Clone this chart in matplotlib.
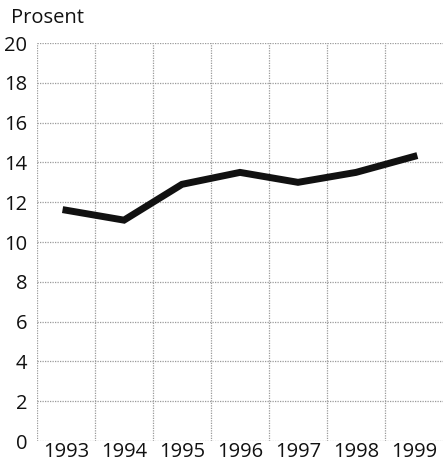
import matplotlib

matplotlib.use("Agg")
import matplotlib.pyplot as plt
from matplotlib.ticker import FixedLocator

years = ["1993", "1994", "1995", "1996", "1997", "1998", "1999"]
prosent = [11.6, 11.1, 12.9, 13.5, 13.0, 13.5, 14.3]
y_ticks = [0, 2, 4, 6, 8, 10, 12, 14, 16, 18, 20]

plt.rcParams["font.family"] = ["Open Sans", "DejaVu Sans"]

fig = plt.figure(figsize=(4.43, 4.63), dpi=100)
ax = fig.add_axes([0.0835, 0.0475, 0.9165, 0.8595])

x = list(range(len(years)))
ax.plot(x, prosent, color="#111111", linewidth=5.0, solid_joinstyle="miter", zorder=3)

ax.set_xlim(-0.5, len(years) - 0.5)
ax.set_ylim(0, 20)
ax.set_xticks(x)
ax.set_xticklabels(years)
ax.set_yticks(y_ticks)
ax.xaxis.set_minor_locator(FixedLocator([i - 0.5 for i in x]))

grid_style = dict(color="#9a9a9a", linestyle=(0, (1, 1)), linewidth=0.9)
ax.grid(True, axis="y", which="major", **grid_style)
ax.grid(True, axis="x", which="minor", **grid_style)
ax.tick_params(which="both", length=0, labelsize=14.5, colors="#111111")
ax.tick_params(axis="y", pad=7)
ax.tick_params(axis="x", pad=1)

for side in ["top", "right", "bottom", "left"]:
  ax.spines[side].set_visible(False)

fig.text(0.025, 0.962, "Prosent", fontsize=14.5, color="#111111", va="center", ha="left")

fig.savefig("out.png", dpi=100)
